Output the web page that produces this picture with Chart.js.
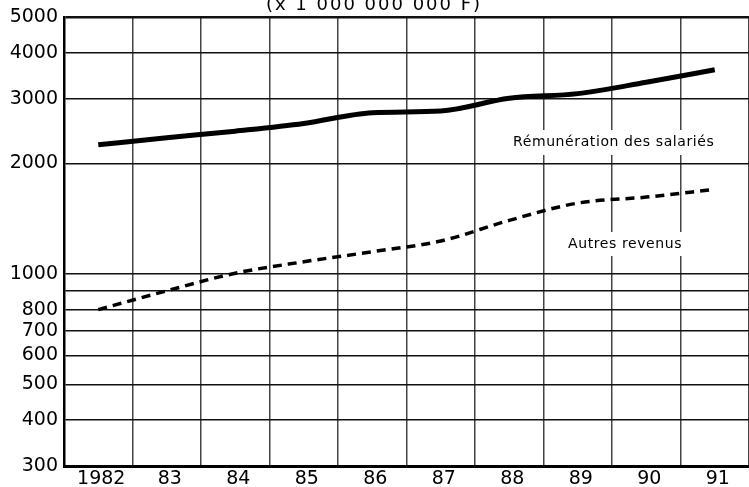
<!DOCTYPE html>
<html>
<head>
<meta charset="utf-8">
<script src="https://cdn.jsdelivr.net/npm/chart.js@4"></script>
<style>
  html, body { margin: 0; padding: 0; background: #fff; }
  canvas { display: block; }
</style>
</head>
<body>
<canvas id="chart" width="749" height="487"></canvas>
<script>
/* ── DATA ── */
const years = ["1982", "83", "84", "85", "86", "87", "88", "89", "90", "91"];
const remunerationSalaries = [2250, 2350, 2450, 2570, 2750, 2780, 3010, 3100, 3330, 3600];
const autresRevenus = [800, 900, 1005, 1080, 1150, 1230, 1400, 1560, 1620, 1700];
const yTickValues = [300, 400, 500, 600, 700, 800, 900, 1000, 2000, 3000, 4000, 5000];
const yTickLabels = ["300", "400", "500", "600", "700", "800", "", "1000", "2000", "3000", "4000", "5000"];
const unitTitle = "(x 1 000 000 000 F)";

const FONT = "'DejaVu Sans', sans-serif";

/* ── TEXT LABELS (drawn on a white patch, like the printed figure) ── */
const textPlugin = {
    id: "textLabels",
    beforeDatasetsDraw(chart) {
        const ctx = chart.ctx;
        ctx.save();
        ctx.fillStyle = "#fff";
        ctx.fillRect(508, 130, 212, 25);
        ctx.fillRect(563, 232, 126, 24);
        ctx.fillStyle = "#000";
        ctx.font = "14px " + FONT;
        ctx.letterSpacing = "0.6px";
        ctx.textBaseline = "middle";
        ctx.textAlign = "left";
        ctx.fillText("Rémunération des salariés", 513, 142);
        ctx.fillText("Autres revenus", 568, 244);
        ctx.restore();
    },
    afterDraw(chart) {
        const ctx = chart.ctx;
        ctx.save();
        ctx.fillStyle = "#000";
        ctx.font = "18px " + FONT;
        ctx.letterSpacing = "2px";
        ctx.textAlign = "center";
        ctx.textBaseline = "alphabetic";
        ctx.fillText(unitTitle, 374, 10);
        ctx.restore();
    }
};

/* ── CHART ── */
new Chart(document.getElementById("chart"), {
    type: "line",
    data: {
        labels: years,
        datasets: [
            {
                label: "Rémunération des salariés",
                data: remunerationSalaries,
                borderColor: "#000",
                borderWidth: 5,
                pointRadius: 0,
                cubicInterpolationMode: "monotone",
                borderCapStyle: "butt"
            },
            {
                label: "Autres revenus",
                data: autresRevenus,
                borderColor: "#000",
                borderWidth: 3.5,
                borderDash: [9, 6],
                pointRadius: 0,
                cubicInterpolationMode: "monotone",
                borderCapStyle: "butt"
            }
        ]
    },
    options: {
        responsive: false,
        animation: false,
        devicePixelRatio: 1,
        layout: { padding: { top: 16, right: 0, left: 0, bottom: 0 } },
        plugins: { legend: { display: false }, tooltip: { enabled: false } },
        scales: {
            x: {
                type: "category",
                offset: true,
                grid: { offset: true, color: "#444", lineWidth: 1.5, drawTicks: false },
                border: { display: true, color: "#000", width: 3 },
                ticks: { color: "#000", font: { family: FONT, size: 19 }, padding: 2, labelOffset: 3, maxRotation: 0, autoSkip: false },
                afterFit(scale) { scale.height = 21; }
            },
            y: {
                type: "logarithmic",
                min: 300,
                max: 5000,
                afterBuildTicks(scale) { scale.ticks = yTickValues.map(v => ({ value: v })); },
                grid: {
                    color: "#111",
                    lineWidth: ctx => (ctx.tick && ctx.tick.value === 5000 ? 2.5 : 1.5),
                    drawTicks: false
                },
                border: { display: true, color: "#000", width: 2.5 },
                ticks: {
                    color: "#000",
                    font: { family: FONT, size: 19 },
                    padding: 6,
                    autoSkip: false,
                    callback: (value, index) => yTickLabels[index]
                },
                afterFit(scale) { scale.width = 64; }
            }
        }
    },
    plugins: [textPlugin]
});
</script>
</body>
</html>
